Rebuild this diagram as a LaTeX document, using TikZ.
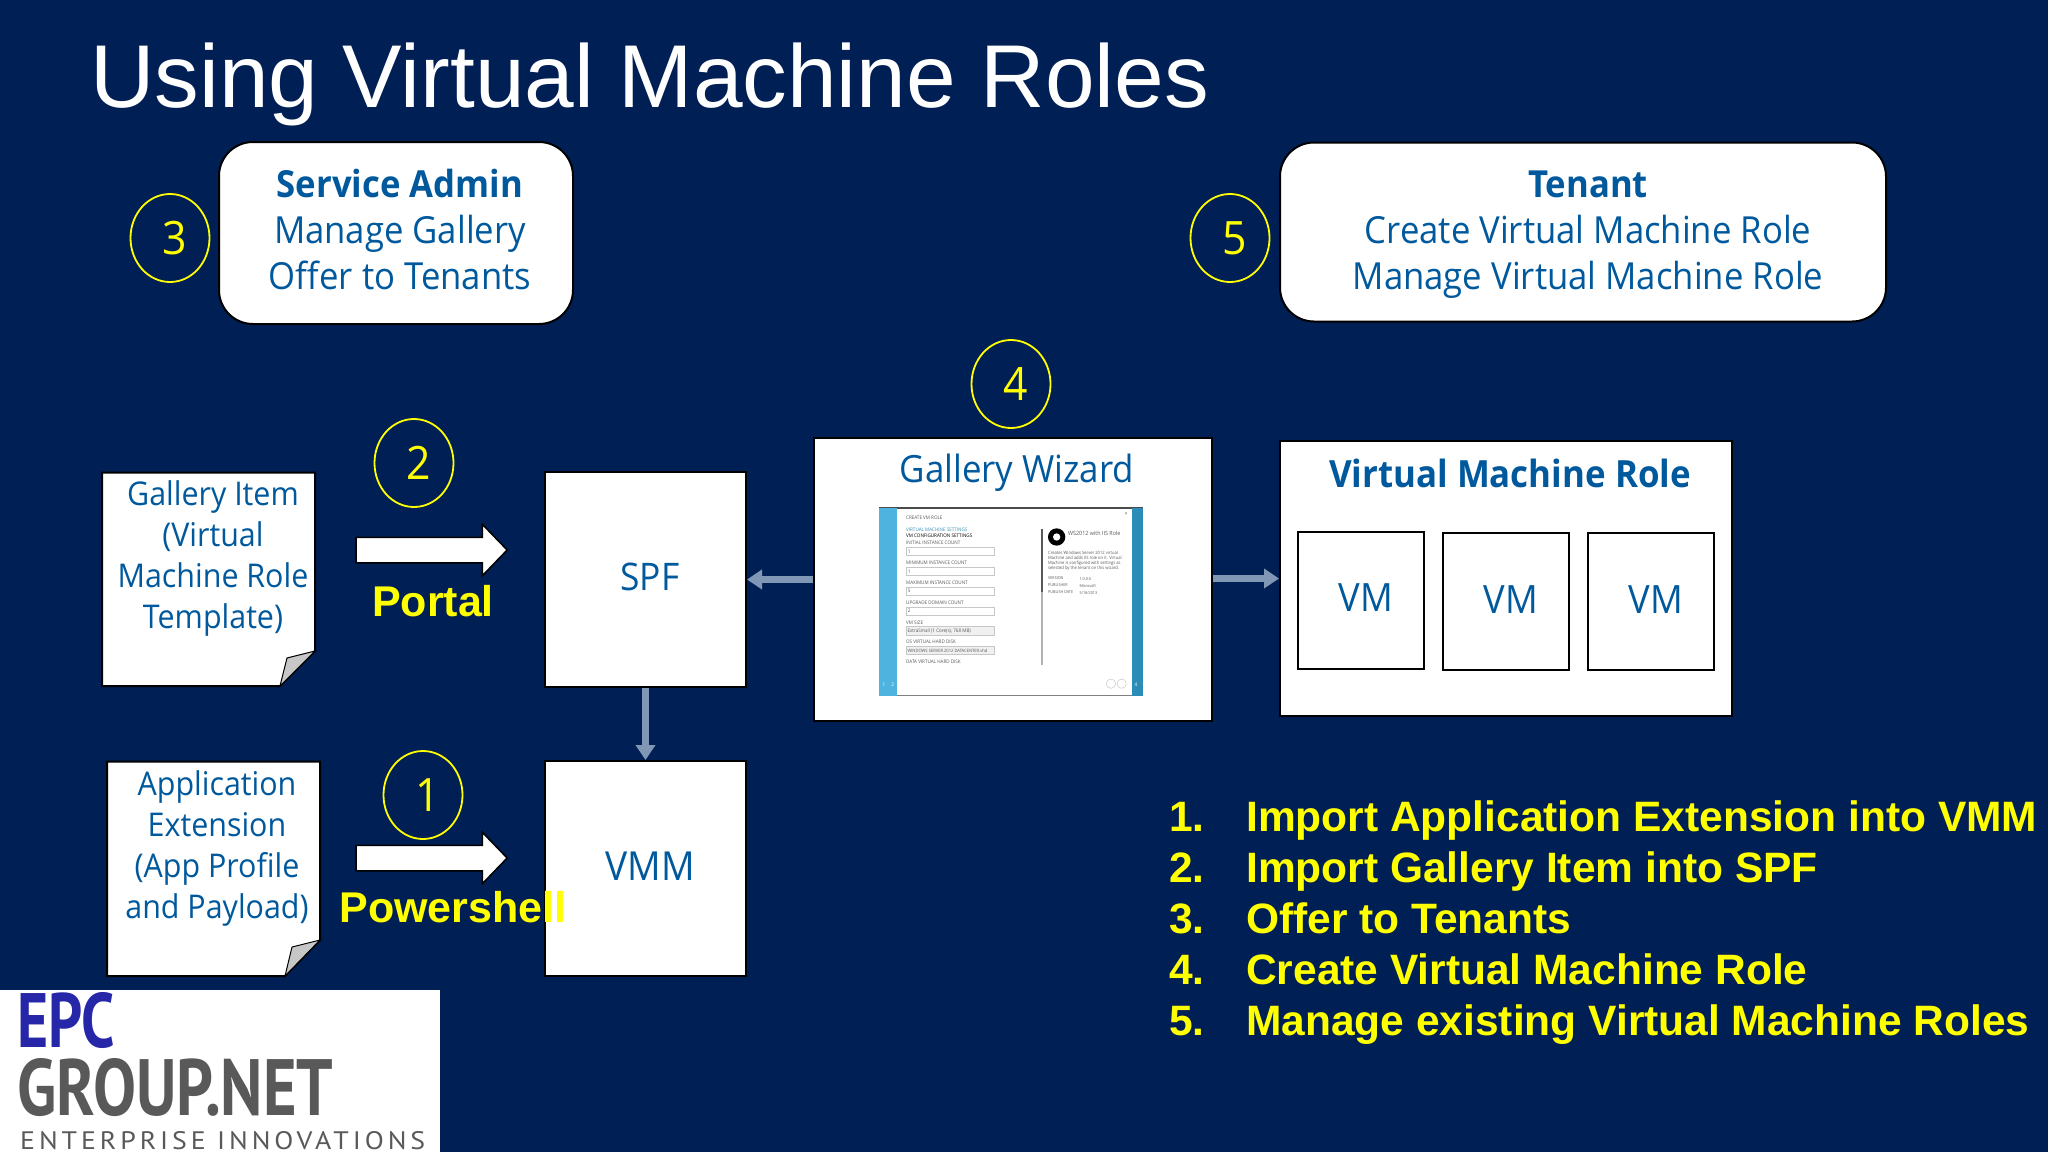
\documentclass[tikz,border=0pt]{standalone}
\usepackage{fontspec}
\usepackage{graphicx}
\usetikzlibrary{shapes.arrows,shapes.geometric,arrows.meta}
\setmainfont[FakeStretch=0.93]{Open Sans}
\newfontfamily\arl{Liberation Sans}
\newfontfamily\logofont{PT Sans}
\newfontfamily\logospaced[LetterSpace=14]{PT Sans}
\definecolor{bgnavy}{HTML}{001F54}
\definecolor{txtblue}{HTML}{00599D}
\definecolor{ylw}{HTML}{FFFF00}
\definecolor{gryarrow}{HTML}{8097B5}
\definecolor{bandl}{HTML}{4FB3E0}
\definecolor{bandr}{HTML}{2C8CB8}
\newcommand{\fs}[2]{\fontsize{#1}{#2}\selectfont}
\newcommand{\dg}[1]{\kern10pt #1}
\tikzset{
  x=1pt,y=-1pt,
  whitebox/.style={draw=black,line width=2pt,fill=white,rectangle,inner sep=0pt},
  roundbox/.style={whitebox,rounded corners=34pt},
  boxlabel/.style={text=txtblue,inner sep=0pt,align=center},
  numcirc/.style={ellipse,draw=ylw,line width=1.8pt,text=ylw,inner sep=0pt,minimum width=79pt,minimum height=88pt,font=\fs{46}{50}},
  bigarrow/.style={single arrow,draw=black,line width=1.5pt,fill=white,minimum height=151pt,minimum width=50pt,inner sep=0pt,text height=24pt,text depth=0pt,single arrow head extend=13pt,single arrow tip angle=92,single arrow head indent=0pt},
  flow/.style={draw=gryarrow,line width=6.5pt,-{Triangle[length=15pt,width=19pt]}},
  pagetext/.style={text=txtblue,align=center,inner sep=0pt,anchor=north,font=\fs{32.7}{41}},
  ylabel/.style={text=ylw,inner sep=0pt,anchor=base,font=\arl\bfseries\fs{43}{43}},
  listitem/.style={text=ylw,inner sep=0pt,anchor=base west,font=\arl\bfseries\fs{42.5}{42.5}},
  tinytxt/.style={inner sep=0pt,anchor=base west,text=black!65,font=\fs{4.9}{5}},
  field/.style={draw=black!22,line width=0.5pt,fill=white},
}
\begin{document}
\begin{tikzpicture}
\useasboundingbox (0,0) rectangle (2048,1152);
\fill[bgnavy] (0,0) rectangle (2048,1152);

% title
\node[text=white,inner sep=0pt,anchor=base west,font=\arl\fs{89.2}{96}] (title) at (90,107) {Using Virtual Machine Roles};

% header boxes
\node[roundbox,minimum width=354pt,minimum height=182pt] (admin) at (396,233) {};
\node[boxlabel,font=\fs{37.3}{46}] (admintxt) at (400,230) {\textbf{Service Admin}\\Manage Gallery\\Offer to Tenants};
\node[roundbox,minimum width=606pt,minimum height=179pt] (tenant) at (1583,232) {};
\node[boxlabel,font=\fs{37.3}{46}] (tenanttxt) at (1588,235) {\textbf{Tenant}\\Create Virtual Machine Role\\Manage Virtual Machine Role};

% numbered circles
\node[numcirc] (c3) at (170,238) {\dg{3}};
\node[numcirc] (c5) at (1230,238) {\dg{5}};
\node[numcirc] (c4) at (1011,384) {\dg{4}};
\node[numcirc] (c2) at (414,463) {\dg{2}};
\node[numcirc] (c1) at (423,795) {\dg{1}};

% document pages
\draw[black,line width=2pt,fill=white] (102,472.5) -- (315,472.5) -- (315,651) -- (280,686) -- (102,686) -- cycle;
\fill[black!22,draw=black,line width=1pt] (280,686) -- (287,658) -- (315,651) -- cycle;
\node[pagetext] (item) at (213,480) {Gallery Item\\(Virtual\\Machine Role\\Template)};
\draw[black,line width=2pt,fill=white] (107,761.5) -- (320,761.5) -- (320,940) -- (285,976) -- (107,976) -- cycle;
\fill[black!22,draw=black,line width=1pt] (285,976) -- (292,947) -- (320,940) -- cycle;
\node[pagetext] (ext) at (217,770) {Application\\Extension\\(App Profile\\and Payload)};

% white arrows
\node[bigarrow] (a2) at (425.5,550) {};
\node[bigarrow] (a1) at (425.5,858) {};
\node[ylabel] (portal) at (433,616) {Portal};

% SPF, VMM
\node[whitebox,minimum width=201pt,minimum height=215pt] (spf) at (645.5,579.5) {};
\node[boxlabel,font=\fs{38}{40}] (spft) at (650,577) {SPF};
\node[whitebox,minimum width=201pt,minimum height=215pt] (vmm) at (645.5,868.5) {};
\node[boxlabel,font=\fs{40}{40}] (vmmt) at (650,866) {VMM};
\node[ylabel] (power) at (453,922) {Powershell};

% gallery wizard
\node[whitebox,minimum width=398pt,minimum height=283pt] (gw) at (1013,579.5) {};
\node[text=txtblue,inner sep=0pt,font=\fs{37.5}{40},anchor=base] (gwt) at (1017,482) {Gallery Wizard};

% screenshot (zoom-crop coordinates)
\begin{scope}[shift={(800,430)},x=0.3333pt,y=-0.3333pt]
  \fill[white] (238,233) rectangle (1028,797);
  \fill[black!70] (238,231) rectangle (1028,236);
  \fill[black!50] (238,795) rectangle (1028,798);
  \fill[bandl] (238,233) rectangle (291,797);
  \fill[bandr] (995,233) rectangle (1028,797);
  \node[tinytxt] (w0) at (318,268) {CREATE VM ROLE};
  \node[tinytxt,text=cyan!70!black] (w1) at (318,305) {VIRTUAL MACHINE SETTINGS};
  \node[tinytxt,text=black] (w2) at (318,323) {VM CONFIGURATION SETTINGS};
  \node[tinytxt] (w3) at (318,345) {INITIAL INSTANCE COUNT};
  \draw[field] (318,352) rectangle (582,377);
  \node[tinytxt] (v3) at (323,370) {1};
  \node[tinytxt] (w4) at (318,404) {MINIMUM INSTANCE COUNT};
  \draw[field] (318,412) rectangle (582,437);
  \node[tinytxt] (v4) at (323,430) {1};
  \node[tinytxt] (w5) at (318,464) {MAXIMUM INSTANCE COUNT};
  \draw[field] (318,471) rectangle (582,496);
  \node[tinytxt] (v5) at (323,489) {5};
  \node[tinytxt] (w6) at (318,523) {UPGRADE DOMAIN COUNT};
  \draw[field] (318,531) rectangle (582,556);
  \node[tinytxt] (v6) at (323,549) {2};
  \node[tinytxt] (w7) at (318,583) {VM SIZE};
  \draw[field,fill=black!6] (318,590) rectangle (582,615);
  \node[tinytxt] (v7) at (322,608) {ExtraSmall (1 Core(s), 768 MB)};
  \node[tinytxt] (w8) at (318,642) {OS VIRTUAL HARD DISK};
  \draw[field,fill=black!6] (318,649) rectangle (582,674);
  \node[tinytxt,font=\fs{4.4}{5}] (v8) at (322,667) {WINDOWS SERVER 2012 DATACENTER.vhd};
  \node[tinytxt] (w9) at (318,701) {DATA VIRTUAL HARD DISK};
  \fill[black!30] (724,298) rectangle (730,705);
  \fill[black!65] (724,298) rectangle (730,485);
  \fill[black] (770,321) circle (26);
  \fill[white] (770,321) circle (11);
  \node[tinytxt,font=\fs{5.8}{6}] (w10) at (804,316) {WS2012 with IIS Role};
  \node[tinytxt,align=left,anchor=north west,font=\fs{4.4}{5}] (w11) at (744,364) {Creates Windows Server 2012 virtual\\Machine and adds IIS role on it. Virtual\\Machine is configured with settings as\\selected by the tenant on this wizard.};
  \node[tinytxt,font=\fs{4}{4}] (w12) at (744,450) {VERSION};
  \node[tinytxt,font=\fs{4}{4}] (w13) at (838,452) {1.0.0.0};
  \node[tinytxt,font=\fs{4}{4}] (w14) at (744,471) {PUBLISHER};
  \node[tinytxt,font=\fs{4}{4}] (w15) at (838,473) {Microsoft};
  \node[tinytxt,font=\fs{4}{4}] (w16) at (744,492) {PUBLISH DATE};
  \node[tinytxt,font=\fs{4}{4}] (w17) at (838,494) {5/18/2013};
  \draw[black!25,line width=0.4pt,fill=white] (933,761) circle (14) (965,761) circle (14);
  \node[inner sep=0pt,text=white,font=\fs{5}{5}] (p1) at (252,763) {1};
  \node[inner sep=0pt,text=white,font=\fs{5}{5}] (p2) at (278,763) {2};
  \node[inner sep=0pt,text=white,font=\fs{5}{5}] (p4) at (1008,763) {4};
  \node[inner sep=0pt,text=black!70,font=\fs{5}{5}] (px) at (979,252) {×};
\end{scope}

% virtual machine role
\node[whitebox,minimum width=452pt,minimum height=275pt] (role) at (1506,578.5) {};
\node[text=txtblue,inner sep=0pt,font=\bfseries\fs{37.5}{40},anchor=base] (rolet) at (1510,487) {Virtual Machine Role};
\node[whitebox,minimum width=126pt,minimum height=137pt] (vm1) at (1361,600) {};
\node[whitebox,minimum width=126pt,minimum height=137pt] (vm2) at (1506,601.5) {};
\node[whitebox,minimum width=126pt,minimum height=137pt] (vm3) at (1651,601.5) {};
\node[boxlabel,font=\fs{39}{40}] (vm1t) at (1366,598) {VM};
\node[boxlabel,font=\fs{39}{40}] (vm2t) at (1511,599.5) {VM};
\node[boxlabel,font=\fs{39}{40}] (vm3t) at (1656,599.5) {VM};

% connectors
\draw[flow] (gw.west |- spf.east) -- (spf.east);
\draw[flow] (gw.east |- role.west) -- (role.west);
\draw[flow] (spf.south) -- (vmm.north);

% numbered list
\foreach \yy/\nn/\tt in {
  831/1/Import Application Extension into VMM,
  882/2/Import Gallery Item into SPF,
  933/3/Offer to Tenants,
  984/4/Create Virtual Machine Role,
  1035/5/Manage existing Virtual Machine Roles}{
  \node[listitem] (n\nn) at (1169,\yy) {\nn.};
  \node[listitem] (l\nn) at (1246,\yy) {\tt};
}

% logo
\fill[white] (0,990) rectangle (440,1152);
\node[inner sep=0pt,anchor=north west,text=blue!60!black!85] (epc) at (17,992) {\resizebox{98pt}{55pt}{\logofont\bfseries EPC}};
\node[inner sep=0pt,anchor=north west,text=black!65] (grp) at (17,1058) {\resizebox{316pt}{57pt}{\logofont\bfseries GROUP.NET}};
\node[inner sep=0pt,anchor=north west,text=black!65] (ent) at (20,1131) {\resizebox{405pt}{18pt}{\logospaced ENTERPRISE INNOVATIONS}};
\end{tikzpicture}
\end{document}
